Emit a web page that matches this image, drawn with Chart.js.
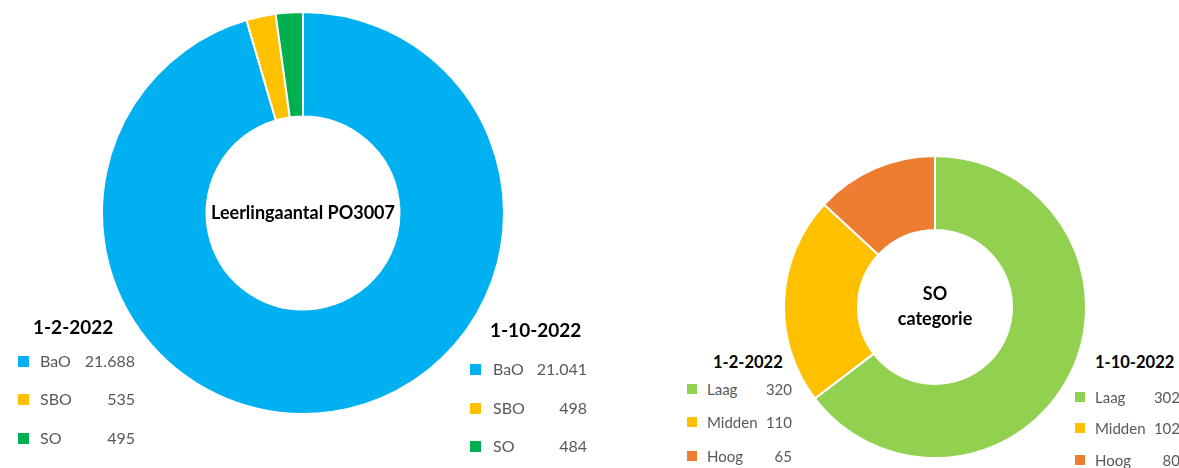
<!DOCTYPE html>
<html>
<head>
<meta charset="utf-8">
<script src="https://cdn.jsdelivr.net/npm/chart.js@4"></script>
<style>
  body { margin: 0; background: #fff; width: 1179px; height: 468px; overflow: hidden; position: relative; font-family: Lato, "Open Sans", sans-serif; }
  canvas { position: absolute; }
  .t { position: absolute; white-space: nowrap; line-height: 1; transform: translateY(-50%); }
  .title { font-weight: bold; color: #000; }
  .lab, .val { color: #595959; }
  .val { text-align: right; }
  .sq { position: absolute; }
</style>
</head>
<body>
<canvas id="left" width="404" height="404" style="left:101px; top:11px"></canvas>
<canvas id="right" width="304" height="304" style="left:783px; top:155px"></canvas>
<script>
// leerlingaantal PO3007
const schoolTypes = ['BaO', 'SBO', 'SO'];
const pupils_feb = [21688, 535, 495];
const pupils_oct = [21041, 498, 484];
const schoolColors = ['#00B0F0', '#FFC000', '#00B050'];

// SO categorie
const soCats = ['Laag', 'Midden', 'Hoog'];
const so_feb = [320, 110, 65];
const so_oct = [302, 102, 80];
const soColors = ['#92D050', '#FFC000', '#ED7D31'];

function fmt(n) {
    return String(n).replace(/\B(?=(\d{3})+(?!\d))/g, '.');
}

const centerText = {
    id: 'centerText',
    afterDraw(chart, args, opts) {
        const ctx = chart.ctx;
        const a = chart.chartArea;
        const cx = (a.left + a.right) / 2;
        const cy = (a.top + a.bottom) / 2;
        ctx.save();
        ctx.font = 'bold ' + opts.size + 'px Lato, "Open Sans", sans-serif';
        ctx.fillStyle = '#000';
        ctx.textAlign = 'center';
        ctx.textBaseline = 'middle';
        const n = opts.lines.length;
        opts.lines.forEach((l, i) => {
            ctx.fillText(l, cx, cy + (i - (n - 1) / 2) * opts.lineHeight);
        });
        ctx.restore();
    }
};

function makeDoughnut(id, labels, values, colors, cutout, lines, size, lh) {
    new Chart(document.getElementById(id), {
        type: 'doughnut',
        data: {
            labels: labels,
            datasets: [{
                data: values,
                backgroundColor: colors,
                borderColor: '#fff',
                borderWidth: 2
            }]
        },
        options: {
            responsive: false,
            animation: false,
            cutout: cutout,
            layout: { padding: 0 },
            plugins: {
                legend: { display: false },
                tooltip: { enabled: false },
                centerText: { lines: lines, size: size, lineHeight: lh }
            }
        },
        plugins: [centerText]
    });
}

makeDoughnut('left', schoolTypes, pupils_feb, schoolColors, '48%', ['Leerlingaantal PO3007'], 18, 18);
makeDoughnut('right', soCats, so_feb, soColors, '51%', ['SO', 'categorie'], 18, 25);

function addText(txt, cls, x, y, size, right) {
    const d = document.createElement('div');
    d.className = 't ' + cls;
    d.textContent = txt;
    d.style.top = y + 'px';
    d.style.fontSize = size + 'px';
    if (right) {
        d.style.right = (1179 - x) + 'px';
    } else {
        d.style.left = x + 'px';
    }
    document.body.appendChild(d);
}

function makeLegend(title, labels, values, colors, L) {
    addText(title, 'title', L.titleX, L.titleY, L.titleSize, false);
    labels.forEach((lab, i) => {
        const y = L.rows[i];
        const sq = document.createElement('div');
        sq.className = 'sq';
        sq.style.left = L.sqX + 'px';
        sq.style.top = (y - L.sq / 2) + 'px';
        sq.style.width = L.sq + 'px';
        sq.style.height = L.sq + 'px';
        sq.style.background = colors[i];
        document.body.appendChild(sq);
        addText(lab, 'lab', L.labX, y, L.size, false);
        addText(fmt(values[i]), 'val', L.valRight, y, L.size, true);
    });
}

makeLegend('1-2-2022', schoolTypes, pupils_feb, schoolColors,
    { titleX: 33, titleY: 326, titleSize: 19, rows: [361, 399, 438], sqX: 18, sq: 11, labX: 40, valRight: 135, size: 16 });
makeLegend('1-10-2022', schoolTypes, pupils_oct, schoolColors,
    { titleX: 490, titleY: 329, titleSize: 19, rows: [369, 408, 446], sqX: 470, sq: 11, labX: 493, valRight: 587, size: 16 });
makeLegend('1-2-2022', soCats, so_feb, soColors,
    { titleX: 713, titleY: 362, titleSize: 16.5, rows: [389, 422, 456], sqX: 687, sq: 10, labX: 707, valRight: 792, size: 15 });
makeLegend('1-10-2022', soCats, so_oct, soColors,
    { titleX: 1095, titleY: 362, titleSize: 16.5, rows: [397, 428, 460], sqX: 1075, sq: 10, labX: 1095, valRight: 1180, size: 15 });
</script>
</body>
</html>
